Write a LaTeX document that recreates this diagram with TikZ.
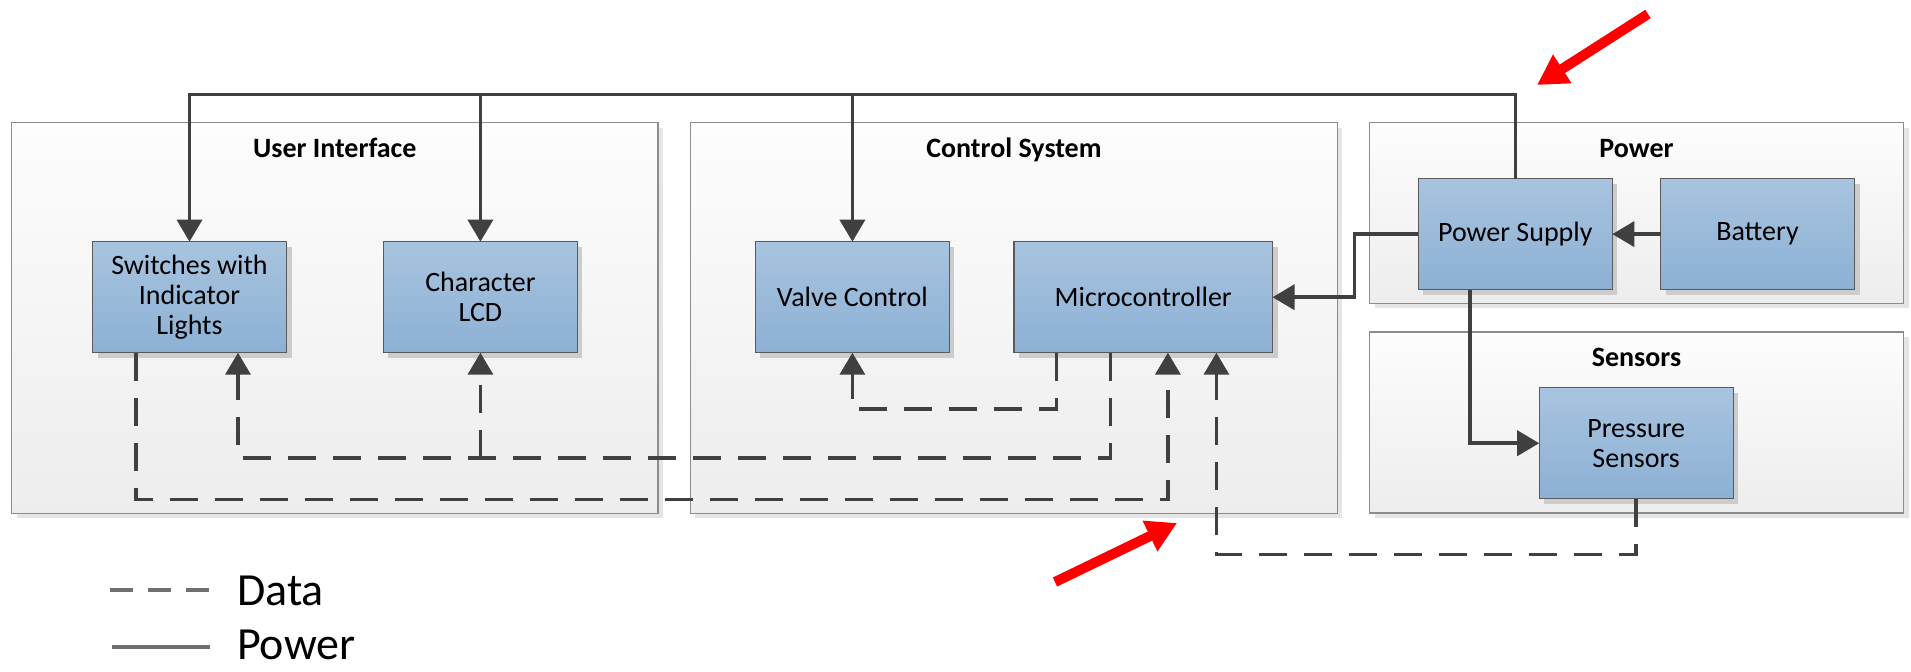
\documentclass[tikz,border=0pt]{standalone}
\usepackage{fontspec}
\setmainfont{Carlito}
\usetikzlibrary{arrows.meta,shadows}
\definecolor{lnc}{HTML}{404040}
\definecolor{legc}{HTML}{707070}
\definecolor{boxtop}{HTML}{A8C4DF}
\definecolor{boxbot}{HTML}{8CB0D4}
\definecolor{boxln}{HTML}{5A5A5A}
\definecolor{grptop}{HTML}{FDFDFD}
\definecolor{grpbot}{HTML}{EDEDED}
\definecolor{grpln}{HTML}{8C8C8C}
\definecolor{redc}{HTML}{FF0000}
\tikzset{
  grp/.style={draw=grpln, line width=0.6pt, top color=grptop, bottom color=grpbot,
    inner sep=0pt, outer sep=0pt,
    drop shadow={shadow xshift=2.5pt, shadow yshift=-2.5pt, fill=black!10, opacity=1}},
  ttl/.style={anchor=base, font=\bfseries\fontsize{14pt}{15pt}\selectfont, inner sep=0pt},
  blk/.style={draw=boxln, line width=0.7pt, top color=boxtop, bottom color=boxbot,
    minimum width=97pt, minimum height=55.5pt, inner sep=0pt, outer sep=0pt, align=center,
    font=\fontsize{14pt}{15pt}\selectfont,
    drop shadow={shadow xshift=2.5pt, shadow yshift=-2.5pt, fill=black!20, opacity=1}},
  pwr/.style={draw=lnc, line width=1.8pt},
  pwrarr/.style={pwr, -{Triangle[length=11pt,width=12.5pt]}},
  data/.style={draw=lnc, line width=1.8pt, dash pattern=on 14pt off 8.5pt},
  dataarr/.style={data, -{Triangle[length=11pt,width=12.5pt]}},
  redarr/.style={draw=redc, line width=5pt, -{Triangle[length=15pt,width=16pt]}},
  legtxt/.style={anchor=base west, font=\fontsize{23pt}{25pt}\selectfont, inner sep=0pt},
}
\begin{document}
\begin{tikzpicture}[x=0.5pt,y=-0.5pt]
\useasboundingbox (0,0) rectangle (1911,671);
% group containers
\node[grp, minimum width=323.2pt, minimum height=195.3pt] (ui) at (334.8,318) {};
\node[grp, minimum width=323.5pt, minimum height=195.3pt] (cs) at (1013.9,318) {};
\node[grp, minimum width=267pt, minimum height=90.35pt] (pw) at (1636.5,212.9) {};
\node[grp, minimum width=267pt, minimum height=90.5pt] (sn) at (1636.5,422.5) {};
% titles
\node[ttl] (uit) at (334.8,157.3) {User Interface};
\node[ttl] (cst) at (1013.9,157.3) {Control System};
\node[ttl] (pwt) at (1636.5,157.3) {Power};
\node[ttl] (snt) at (1636.5,366.5) {Sensors};
% blocks
\node[blk] (sw) at (189.5,297.2) {Switches with\\Indicator\\Lights};
\node[blk] (lcd) at (480.4,297.2) {Character\\LCD};
\node[blk] (vc) at (852.4,297.2) {Valve Control};
\node[blk, minimum width=129.3pt] (mc) at (1143.2,297.2) {Microcontroller};
\node[blk] (ps) at (1515.3,234.1) {Power Supply};
\node[blk] (bat) at (1757.5,234.1) {Battery};
\node[blk] (pr) at (1636.2,443.2) {Pressure\\Sensors};
% power connectors
\coordinate (ptop) at (1000,94.5);
\draw[pwrarr] (ps.north) |- (ptop) -| (sw.north);
\draw[pwrarr] (lcd.north |- ptop) -- (lcd.north);
\draw[pwrarr] (vc.north |- ptop) -- (vc.north);
\coordinate (pjx) at (1354.5,0);
\draw[pwrarr] (ps.west) -| (pjx |- mc.east) -- (mc.east);
\draw[pwrarr] (bat.west) -- (ps.east);
\coordinate (psout) at ([xshift=-22.6pt]ps.south);
\draw[pwrarr] (psout) |- (pr.west);
% data connectors
\coordinate (mcA) at ([xshift=-43.4pt]mc.south);
\coordinate (mcB) at ([xshift=-16.3pt]mc.south);
\coordinate (mcC) at ([xshift=12.35pt]mc.south);
\coordinate (mcD) at ([xshift=36.6pt]mc.south);
\coordinate (swO) at ([xshift=-26.65pt]sw.south);
\coordinate (swI) at ([xshift=24.25pt]sw.south);
\coordinate (yA) at (0,408.7);
\coordinate (yB) at (0,457.7);
\coordinate (yC) at (0,499.3);
\coordinate (yD) at (0,554.6);
\draw[dataarr] (mcA) -- (mcA |- yA) -- (vc.south |- yA) -- (vc.south);
\draw[dataarr] (mcB) -- (mcB |- yB) -- (swI |- yB) -- (swI);
\draw[dataarr] (lcd.south |- yB) -- (lcd.south);
\draw[dataarr] (swO) -- (swO |- yC) -- (mcC |- yC) -- (mcC);
\draw[dataarr] (pr.south) -- (pr.south |- yD) -- (mcD |- yD) -- (mcD);
% red arrows
\coordinate (r1t) at (1648,14);
\coordinate (r1h) at (1537,85);
\draw[redarr] (r1t) -- (r1h);
\coordinate (r2t) at (1055,582);
\coordinate (r2h) at (1177,523);
\draw[redarr] (r2t) -- (r2h);
% legend
\coordinate (l1a) at (110,590);
\coordinate (l1b) at (210,590);
\draw[legc, line width=2pt, dash pattern=on 11.5pt off 7.5pt] (l1a) -- (l1b);
\coordinate (l2a) at (112,647);
\coordinate (l2b) at (210,647);
\draw[legc, line width=2pt] (l2a) -- (l2b);
\node[legtxt] (ldata) at (236.7,605) {Data};
\node[legtxt] (lpow) at (236.7,659) {Power};
\end{tikzpicture}
\end{document}
